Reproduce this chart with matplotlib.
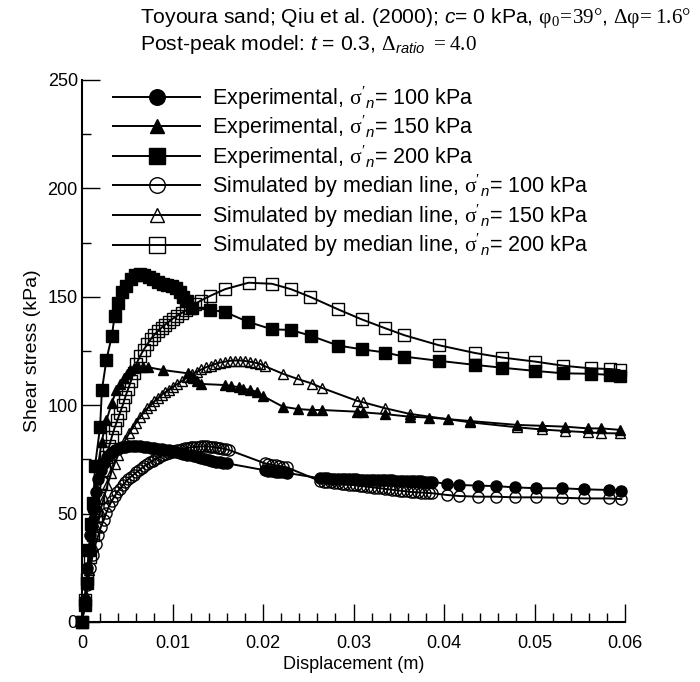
import numpy as np
import matplotlib
matplotlib.use('Agg')
import matplotlib.pyplot as plt
from matplotlib.ticker import MultipleLocator, FixedLocator, FixedFormatter

plt.rcParams['font.family'] = 'Liberation Sans'
plt.rcParams['mathtext.fontset'] = 'custom'
plt.rcParams['mathtext.rm'] = 'Liberation Serif'
plt.rcParams['mathtext.it'] = 'Liberation Sans:italic'
plt.rcParams['mathtext.bf'] = 'Liberation Sans:bold'

# experimental, sigma'n = 100 kPa
exp100_x = [0, .0003, .0006, .0009, .0012, .0015, .0018, .0021, .0024, .0028, .0032, .0036, .004, .0044, .0048, .0052,
            .0056, .006, .0064, .0068, .0072, .0076, .008, .0084, .0088, .0092, .0096, .01, .0104, .0108, .0112, .0116,
            .012, .0124, .0128, .0132, .0136, .014, .0144, .0148, .0152, .0156, .016,
            .0202, .0206, .021, .0214, .0218, .0222, .0226,
            .0263, .0267, .0271, .0275, .0279, .0283, .0287, .0291, .0295, .0299, .0303, .0307, .0311, .0315, .0319, .0323,
            .0327, .0331, .0335, .0339, .0343, .0347, .0351, .0355, .0359, .0363, .0367, .0371, .0375, .0379, .0383, .0387,
            .0403, .0417, .0438, .0457, .0478, .0502, .053, .0555, .0582, .0596]
exp100_y = [0, 10, 25, 40, 52, 60, 66, 70, 73.5, 76, 78, 79.3, 80, 80.5, 80.8, 81,
            81, 81, 81, 80.8, 80.6, 80.4, 80.2, 80, 79.8, 79.5, 79.2, 78.8, 78.4, 78, 77.6, 77.2,
            76.8, 76.4, 76, 75.6, 75.2, 74.8, 74.4, 74, 73.7, 73.4, 73.2,
            70, 69.8, 69.6, 69.4, 69.2, 69, 68.8,
            66.3, 66.2, 66.2, 66.1, 66.1, 66.0, 66.0, 65.9, 65.9, 65.8, 65.8, 65.7, 65.7, 65.6, 65.6, 65.5,
            65.5, 65.4, 65.4, 65.3, 65.3, 65.2, 65.2, 65.1, 65.1, 65.0, 65.0, 64.9, 64.9, 64.8, 64.8, 64.7,
            63.7, 63.2, 62.9, 62.7, 62.1, 61.7, 61.7, 61.2, 60.9, 60.6]

# experimental, sigma'n = 150 kPa
exp150_x = [0, .0003, .0006, .0009, .0012, .0015, .0018, .00217, .0027, .0033, .0038, .0042, .0046, .005, .0053, .0057,
            .0062, .0067, .0073, .009, .0117, .012, .0123, .0127, .0132, .0158, .0165, .0173, .0178, .0186, .0193, .02,
            .0222, .0239, .0254, .0265, .0304, .0311, .0335, .0362, .0383, .0404, .0429, .0481, .0508, .0534, .0559, .0574,
            .0595]
exp150_y = [0, 8, 20, 35, 50, 62, 73, 83, 93, 101, 107, 110, 112.4, 114.5, 116.2, 117,
            117.5, 117.8, 117.5, 116.2, 114.7, 113.5, 112.4, 111, 109.8, 109.3, 108.9, 108.3, 107.6, 107, 106.2, 104.2,
            99.3, 98.2, 97.8, 97.8, 97, 96.7, 95.9, 94.7, 94.3, 93.6, 92.7, 90.9, 90.5, 90.1, 89.3, 89.3,
            88.6]

# experimental, sigma'n = 200 kPa
exp200_x = [0, .0003, .0005, .0008, .001, .00125, .00144, .002, .0022, .0027, .0033, .0036, .004, .0044, .0049,
            .0054, .0059, .0064, .0069, .0074, .0079, .0084, .0089, .0094, .0099, .0104, .0108, .0112, .0116, .0121,
            .0141, .0158, .0183, .021, .0231, .0253, .0283, .0309, .0335, .0356, .0394, .0434, .0464, .0501,
            .0532, .0562, .0583, .0594]
exp200_y = [0, 8, 18, 33, 45, 55, 72, 90, 107, 121, 132, 141, 147, 152, 155,
            158, 160, 160.5, 160, 159, 158, 157, 156, 155.5, 155, 154, 152, 150, 148, 145,
            144, 143, 138.5, 135, 134.7, 132, 127.5, 125.8, 124.3, 122.4, 120.5, 118.6, 117.3, 115.8,
            114.7, 114.5, 114, 113.5]

# simulated by median line, sigma'n = 100 kPa
sim100_x = [0, .0003, .0006, .0009, .0012, .0015, .0018, .0021, .0024, .0027, .003, .0033, .0036, .0039, .0042, .0045,
            .0048, .0051, .0054, .0057, .006, .0063, .0066, .0069, .0072, .0075, .0078, .0081, .0084, .0087, .009, .0093,
            .0096, .0099, .0102, .0105, .0108, .0111, .0114, .0117, .012, .0123, .0126, .0129, .0132, .0135, .0138,
            .0141, .0144, .0147, .015, .0153, .0156, .0159, .0162,
            .0202, .0206, .021, .0214, .0218, .0222, .0226,
            .0263, .0267, .0271, .0275, .0279, .0283, .0287, .0291, .0295, .0299, .0303, .0307, .0311, .0315, .0319, .0323,
            .0327, .0331, .0335, .0339, .0343, .0347, .0351, .0355, .0359, .0363, .0367, .0371, .0375, .0379, .0383, .0387,
            .0403, .0417, .0438, .0457, .0478, .0502, .053, .0555, .0582, .0596]
sim100_y = [0, 8, 17, 25, 31, 36, 40, 44, 47, 50.5, 53.5, 56, 58, 60, 61.5, 63,
            64.5, 65.8, 67, 68, 69, 70, 71, 72, 72.8, 73.6, 74.4, 75.1, 75.8, 76.4, 77, 77.5,
            78, 78.4, 78.8, 79.2, 79.5, 79.8, 80.1, 80.3, 80.5, 80.7, 80.8, 80.9, 81, 81, 81,
            80.9, 80.8, 80.6, 80.4, 80.2, 80, 79.7, 79.4,
            73.2, 72.9, 72.6, 72.3, 72.0, 71.7, 71.4,
            65.0, 64.8, 64.6, 64.4, 64.2, 64.0, 63.8, 63.6, 63.4, 63.2, 63.0, 62.8, 62.6, 62.4, 62.2, 62.0,
            61.8, 61.6, 61.4, 61.2, 61.0, 60.8, 60.6, 60.4, 60.2, 60.0, 59.9, 59.8, 59.7, 59.6, 59.5, 59.4,
            58.6, 58.1, 57.8, 57.8, 57.5, 57.5, 57.3, 57.0, 57.0, 56.7]

# simulated by median line, sigma'n = 150 kPa
sim150_x = [0, .0004, .0008, .0012, .0016, .002, .0024, .0028, .0032, .0036, .004, .0044, .0048, .0052, .0056, .006,
            .0064, .0068, .0072, .0076, .008, .0084, .0088, .0092, .0096, .01, .0105, .011, .0116, .0122, .0127, .0132,
            .0137, .0142, .0147, .0152, .0158, .0164, .0169, .0175, .018, .0186, .0191, .0197, .0202,
            .0222, .0239, .0254, .0265, .0304, .0311, .0335, .0362, .0429, .0481, .0508, .0534, .0559, .0574, .0595]
sim150_y = [0, 12, 24, 35, 44, 51, 57, 63, 68.5, 73, 77, 80.5, 84, 87, 89.5, 92,
            94.5, 96.5, 98.5, 100, 101.8, 103.3, 104.7, 106, 107.2, 108.4, 109.7, 111, 112.8, 114.3, 115.5, 116.5,
            117.5, 118.3, 119, 119.6, 120.1, 120.5, 120.6, 120.6, 120.4, 120, 119.6, 119, 118,
            114.5, 112, 110, 108, 102, 101.3, 98.6, 96, 92.1, 89.8, 88.8, 88.1, 87.5, 87.1, 87]

# simulated by median line, sigma'n = 200 kPa
sim200_x = [0, .0003, .0006, .0009, .0012, .0015, .0018, .0021, .0024, .0027, .003, .0033, .0036, .0039, .0042, .0045,
            .0048, .0051, .0054, .0057, .006, .0064, .0068, .0072, .0076, .008, .0084, .0088, .0092, .0096, .01, .0105,
            .011, .0115, .0119, .0125, .0131, .0141, .0158, .0184, .021, .0231, .0252, .0283, .0309, .0335, .0356,
            .0394, .0434, .0464, .0501, .0532, .0562, .0583, .0594]
sim200_y = [0, 10, 20, 30, 40, 49, 57, 64, 70, 76, 81, 85.5, 89.5, 93, 96.5, 100,
            104, 107.5, 111, 115, 119, 122.5, 125.5, 128, 130.5, 132.5, 134.2, 135.8, 137.2, 138.5, 139.8, 141.2,
            142.5, 143.8, 145, 146.7, 148.2, 150.3, 153.5, 156.5, 156, 153.5, 150, 144.2, 139.6, 135.5, 132.3,
            127.7, 124.1, 122, 120.1, 118.2, 117, 116.7, 116.2]

labels = [r"Experimental, $\mathrm{\sigma}'_n$= 100 kPa",
          r"Experimental, $\mathrm{\sigma}'_n$= 150 kPa",
          r"Experimental, $\mathrm{\sigma}'_n$= 200 kPa",
          r"Simulated by median line, $\mathrm{\sigma}'_n$= 100 kPa",
          r"Simulated by median line, $\mathrm{\sigma}'_n$= 150 kPa",
          r"Simulated by median line, $\mathrm{\sigma}'_n$= 200 kPa"]

fig = plt.figure(figsize=(7, 6.82), dpi=100)
ax = fig.add_axes([82/700, 1-622/682, 543/700, 542/682])

series = [(exp100_x, exp100_y, 'o', 'k', 8),
          (exp150_x, exp150_y, '^', 'k', 7.5),
          (exp200_x, exp200_y, 's', 'k', 8),
          (sim100_x, sim100_y, 'o', 'none', 8),
          (sim150_x, sim150_y, '^', 'none', 7.5),
          (sim200_x, sim200_y, 's', 'none', 8)]
for (xs, ys, m, fc, ms), lab in zip(series, labels):
    ax.plot(xs, ys, color='k', lw=1.4, marker=m, ms=ms, mfc=fc, mec='k', mew=1.0,
            label=lab, clip_on=False)

ax.set_xlim(0, 0.06)
ax.set_ylim(0, 250)
ax.spines['top'].set_visible(False)
ax.spines['right'].set_visible(False)
ax.spines['left'].set_linewidth(1.5)
ax.spines['bottom'].set_linewidth(1.5)

ax.xaxis.set_major_locator(FixedLocator([0, .01, .02, .03, .04, .05, .06]))
ax.xaxis.set_major_formatter(FixedFormatter(['0', '0.01', '0.02', '0.03', '0.04', '0.05', '0.06']))
ax.xaxis.set_minor_locator(MultipleLocator(0.002))
ax.yaxis.set_major_locator(MultipleLocator(50))
ax.yaxis.set_minor_locator(MultipleLocator(25))
ax.tick_params(which='major', direction='in', length=13, width=1, labelsize=13)
ax.tick_params(which='minor', direction='in', length=6.5, width=1)
ax.tick_params(axis='y', which='major', pad=3)
ax.tick_params(axis='x', which='major', pad=9)

ax.set_xlabel('Displacement (m)', fontsize=13, labelpad=3)
ax.set_ylabel('Shear stress (kPa)', fontsize=14, labelpad=5)

leg = ax.legend(loc='upper left', bbox_to_anchor=(113/700, 1-84/682), bbox_transform=fig.transFigure,
                frameon=False, fontsize=15.5, handlelength=4.05, handletextpad=0.56, labelspacing=0.09,
                borderpad=0, borderaxespad=0, markerscale=1.4)

fig.text(140/700, 1-18/682,
         r"Toyoura sand; Qiu et al. (2000); $c$= 0 kPa, $\mathrm{\varphi}_0\!=\!39°$, $\Delta\mathrm{\varphi}\!=1.6°$",
         fontsize=15.2, ha='left', va='center')
fig.text(140/700, 1-44/682, r"Post-peak model: $t$ = 0.3, $\Delta_{ratio}\ = 4.0$",
         fontsize=15.2, ha='left', va='center')

fig.savefig('out.png', dpi=100)
